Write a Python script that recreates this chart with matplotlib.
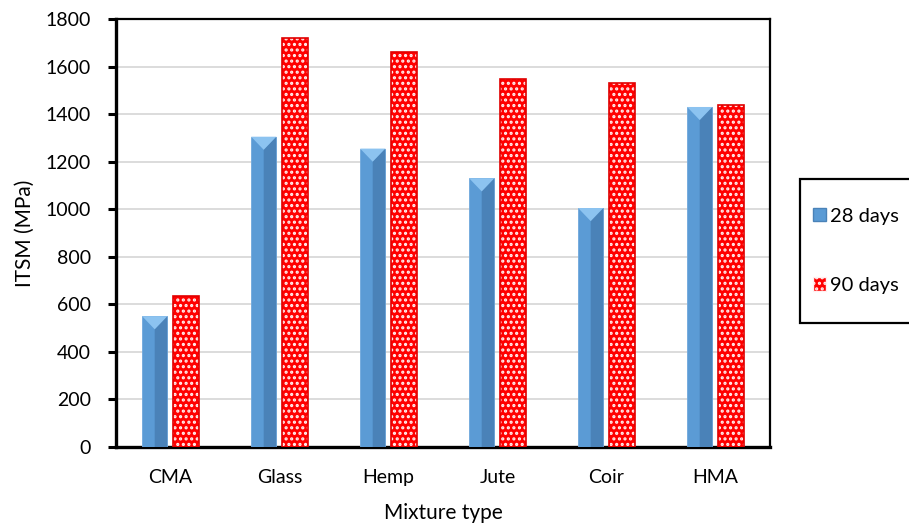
import numpy as np
from matplotlib import pyplot as plt
from matplotlib.patches import Polygon, Patch, Rectangle

plt.rcParams['font.family'] = ['Lato', 'DejaVu Sans']
plt.rcParams['hatch.linewidth'] = 1.5

mixtures = ['CMA', 'Glass', 'Hemp', 'Jute', 'Coir', 'HMA']
itsm_28 = [550, 1305, 1255, 1130, 1005, 1430]
itsm_90 = [635, 1720, 1660, 1548, 1530, 1440]

blue = '#5B9BD5'
blue_dark = '#4A82B8'
blue_light = '#8CC3F0'
red = '#FF0000'

fig = plt.figure(figsize=(9.09, 5.29), dpi=100)
ax = fig.add_axes([116/909, 1 - 447/529, 654/909, 428/529])

x = np.arange(len(mixtures))
w = 0.23
off = 0.145

# 28 days: bevelled blue columns
ax.bar(x - off, itsm_28, w, color=blue, edgecolor='#6FA8DC', linewidth=0.6, zorder=3)
for xi, v in zip(x - off, itsm_28):
    # darker right face
    ax.add_patch(Polygon([(xi, 0), (xi + w/2, 0), (xi + w/2, v), (xi, v - 55)],
                         closed=True, color=blue_dark, lw=0, zorder=4))
    # lighter top wedge
    ax.add_patch(Polygon([(xi - w/2, v), (xi + w/2, v), (xi, v - 55)],
                         closed=True, color=blue_light, lw=0, zorder=4))

# 90 days: red with white dotted pattern
ax.bar(x + off, itsm_90, w + 0.01, color=red, edgecolor='#FFF0F0', hatch='...', linewidth=0, zorder=3)
ax.bar(x + off, itsm_90, w + 0.01, color='none', edgecolor='#E00000', linewidth=1.2, zorder=4)

ax.set_xlim(-0.5, len(mixtures) - 0.5)
ax.set_ylim(0, 1800)
ax.set_yticks(np.arange(0, 1801, 200))
ax.set_xticks(x)
ax.set_xticklabels(mixtures, fontsize=14)
ax.tick_params(axis='y', labelsize=14, direction='out', length=6, width=2.2, pad=12)
ax.tick_params(axis='x', length=0, pad=16)
ax.yaxis.grid(True, color='#D9D9D9', linewidth=1.3, zorder=0)
ax.set_axisbelow(True)

for side in ['left', 'bottom']:
    ax.spines[side].set_linewidth(2.4)
for side in ['top', 'right']:
    ax.spines[side].set_linewidth(1.6)

ax.set_ylabel('ITSM (MPa)', fontsize=15, labelpad=8)
ax.set_xlabel('Mixture type', fontsize=15, labelpad=12)

# legend box runs off the right edge as in the original
fig.patches.append(Rectangle((800/909, 1 - 323/529), 120/909, 144/529,
                             transform=fig.transFigure, facecolor='white',
                             edgecolor='black', linewidth=1.6, zorder=1))
handles = [Patch(facecolor=blue, edgecolor=blue_dark),
           Patch(facecolor=red, edgecolor='#FFF0F0', hatch='...')]
leg = fig.legend(handles, ['28 days', '90 days'], loc='center left',
                 bbox_to_anchor=(813/909, 1 - 251/529),
                 fontsize=14.5, frameon=False,
                 handlelength=0.65, handleheight=0.65, handletextpad=0.2,
                 labelspacing=2.6, borderpad=0, borderaxespad=0)
leg.set_zorder(5)

fig.savefig('out.png', dpi=100)
